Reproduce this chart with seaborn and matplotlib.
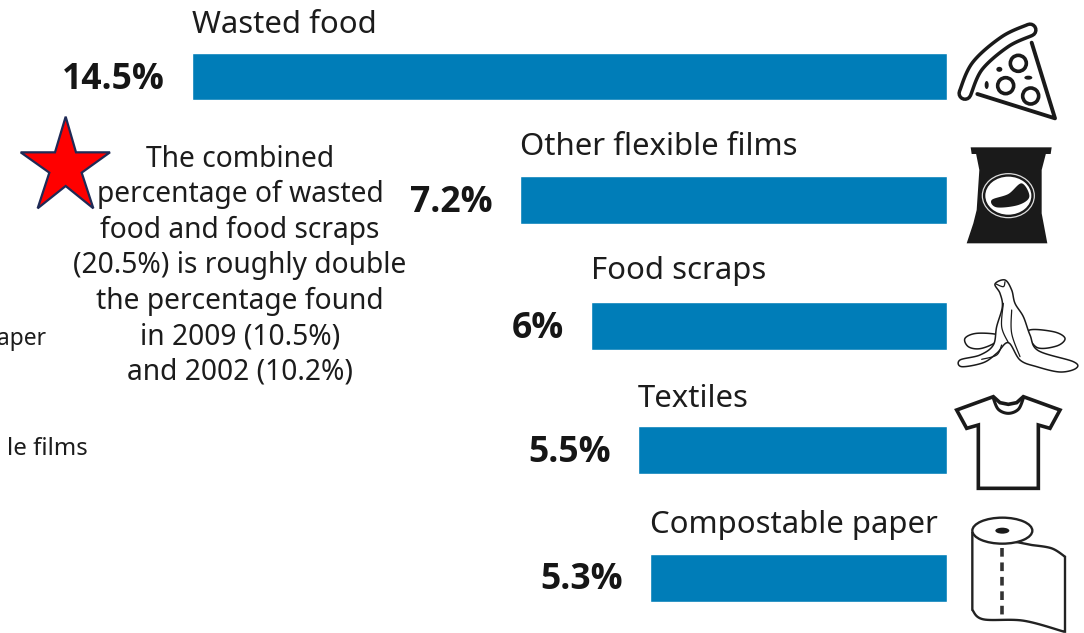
import numpy as np
import pandas as pd
import matplotlib
matplotlib.use("Agg")
import matplotlib.pyplot as plt
from matplotlib.patches import Polygon, Ellipse, Circle
import seaborn as sns

# ---- data -------------------------------------------------------------
categories = ["Wasted food", "Other flexible films", "Food scraps", "Textiles", "Compostable paper"]
value_labels = ["14.5%", "7.2%", "6%", "5.5%", "5.3%"]
percent = [14.5, 7.2, 6.0, 5.5, 5.3]
# The original graphic is not drawn to a linear scale, so the lengths as drawn are
# read off separately, expressed in units of the top bar's scale.
drawn_length = [14.52, 8.21, 6.85, 5.94, 5.71]
note = ("The combined\npercentage of wasted\nfood and food scraps\n(20.5%) is roughly double\n"
        "the percentage found\nin 2009 (10.5%)\nand 2002 (10.2%)")
clipped_neighbours = ["aper", "le films"]

# ---- layout (pixels of the 1084x633 canvas) ---------------------------
W, H = 1084, 633
BASE_X = 947
PX_PER_UNIT = 52.0
bar_centers = [76.5, 200, 326, 450, 578]
name_y = [25, 147, 271, 399, 525]
value_y = [80, 203, 329, 453, 580]
BLUE = "#007DB8"
INK = "#1c1c1c"
FONT = "Noto Sans"

sns.set_theme(style="white")
plt.rcParams["font.family"] = [FONT, "DejaVu Sans"]

fig = plt.figure(figsize=(W / 100, H / 100), dpi=100, facecolor="white")
ax = fig.add_axes([0, 0, 1, 1])
df = pd.DataFrame({"category": categories, "length": drawn_length, "center": bar_centers})
sns.barplot(data=df, x="length", y="center", orient="h", native_scale=True,
            color=BLUE, saturation=1, width=47.5 / 124, errorbar=None, ax=ax)
# bars grow leftward from a common baseline near the icons
ax.set_xlim(BASE_X / PX_PER_UNIT, (BASE_X - W) / PX_PER_UNIT)
ax.set_ylim(H, 0)
ax.axis("off")

for name, val, L, ny, vy in zip(categories, value_labels, drawn_length, name_y, value_y):
    ax.annotate(name, xy=(L, ny), xytext=(0, 0), textcoords="offset pixels", ha="left", va="center",
                fontsize=22.4, color=INK, annotation_clip=False)
    ax.annotate(val, xy=(L, vy), xytext=(-27, 0), textcoords="offset pixels", ha="right", va="center",
                fontsize=25.6, fontweight="bold", family=["Open Sans", "DejaVu Sans"], color="#161616",
                annotation_clip=False)

# overlay in pixel coordinates for the note, star, clipped neighbours and icons
px = fig.add_axes([0, 0, 1, 1], zorder=3)
px.set_xlim(0, W)
px.set_ylim(H, 0)
px.axis("off")
px.patch.set_alpha(0)

px.text(240, 265.5, note, ha="center", va="center", fontsize=20.3, linespacing=1.29, color=INK)
px.text(46.5, 339, clipped_neighbours[0], ha="right", va="center", fontsize=16.4, color=INK)
px.text(88, 449, clipped_neighbours[1], ha="right", va="center", fontsize=17.3, color=INK)

star = [(197, 50), (228, 157), (330, 157), (245, 218), (280, 325), (197, 258),
        (113, 325), (148, 218), (62, 157), (165, 157)]
px.add_patch(Polygon([(x / 3, 100 + y / 3) for x, y in star], closed=True, fc="#FF0000",
                     ec="#1F2A56", lw=1.6, joinstyle="miter"))


def z1(pts):
    return [(940 + x / 3, 10 + y / 3) for x, y in pts]


def z2(pts):
    return [(940 + x / 3, 270 + y / 3) for x, y in pts]


def smooth(pts, closed=False, n=14):
    p = np.asarray(pts, float)
    if closed:
        p = np.vstack([p[-1], p, p[0], p[1]])
    else:
        p = np.vstack([p[0], p, p[-1]])
    out = []
    for i in range(1, len(p) - 2):
        for t in np.linspace(0, 1, n, endpoint=False):
            a, b, c, d = p[i - 1], p[i], p[i + 1], p[i + 2]
            out.append(0.5 * (2 * b + (c - a) * t + (2 * a - 5 * b + 4 * c - d) * t ** 2
                              + (3 * b - a - 3 * c + d) * t ** 3))
    out.append(p[-2])
    return np.array(out)


K = "#1a1a1a"
# pizza
crust = smooth(z1([(75, 250), (112, 168), (195, 95), (270, 60)]))
px.plot(*crust.T, color=K, lw=11, solid_capstyle="round")
px.plot(*crust.T, color="white", lw=6, solid_capstyle="round")
px.plot(*np.array(z1([(112, 252), (345, 325), (275, 98)])).T, color=K, lw=2.8,
        solid_joinstyle="round", solid_capstyle="round")
for x, y in z1([(235, 160), (197, 227), (272, 258)]):
    px.add_patch(Circle((x, y), 8, fc="white", ec=K, lw=2.6))
for x, y, w, h in [(178, 178, 6, 5), (140, 225, 4, 8), (265, 203, 8, 4)]:
    (cx, cy), = z1([(x, y)])
    px.add_patch(Ellipse((cx, cy), w, h, fc=K, ec="none"))

# chip bag
px.add_patch(Polygon(z1([(92, 412), (335, 412), (332, 432), (95, 432)]), fc=K, ec="none"))
px.add_patch(Polygon(z1([(108, 430), (318, 430), (305, 480), (305, 610), (322, 700), (80, 700),
                         (100, 640), (110, 600), (118, 480)]), fc=K, ec="none"))
(cx, cy), = z1([(205, 557)])
px.add_patch(Ellipse((cx, cy), 52, 44, fc=K, ec="#dddddd", lw=0.9))
px.add_patch(Ellipse((cx, cy), 46, 38, fc="white", ec="none"))
px.add_patch(Polygon(smooth(z1([(155, 570), (205, 552), (245, 520), (268, 560), (235, 585), (170, 592)]),
                            closed=True), fc=K, ec="none"))

# banana peel
for shape in ([(75, 205), (110, 190), (175, 195), (165, 218), (120, 236), (85, 230)],
              [(265, 182), (340, 185), (375, 205), (350, 228), (290, 232)]):
    px.add_patch(Polygon(smooth(z2(shape), closed=True), fc="white", ec=K, lw=1.1))
peel = [(165, 42), (195, 30), (215, 60), (225, 100), (250, 140), (270, 195), (295, 242), (400, 275),
        (408, 295), (360, 306), (290, 290), (240, 270), (205, 218), (170, 250), (130, 278), (65, 290),
        (60, 270), (120, 255), (160, 225), (170, 170), (187, 110), (180, 70)]
px.add_patch(Polygon(smooth(z2(peel), closed=True), fc="white", ec=K, lw=1.1))
for ln in ([(190, 100), (185, 170), (205, 218)], [(215, 120), (215, 190), (240, 260)],
           [(185, 225), (170, 255), (125, 268)], [(168, 42), (190, 50), (195, 35)]):
    px.plot(*smooth(z2(ln)).T, color=K, lw=0.9)

# t-shirt
shirt = [(50, 420), (160, 380), (180, 398), (205, 403), (230, 398), (250, 380), (360, 420), (330, 475),
         (295, 465), (295, 655), (115, 655), (115, 465), (80, 475)]
px.add_patch(Polygon(z2(shirt), closed=True, fc="white", ec=K, lw=2.6, joinstyle="miter"))
px.plot(*smooth(z2([(160, 385), (175, 418), (205, 430), (235, 418), (250, 385)])).T, color=K, lw=2.2)

# paper roll
sheet = smooth(z2([(97, 790), (97, 1020)])).tolist() + smooth(z2([(97, 1020), (130, 1048), (250, 1052), (372, 1085)])).tolist() \
    + smooth(z2([(375, 1085), (375, 860)])).tolist() + smooth(z2([(375, 860), (335, 835), (275, 825)])).tolist()
px.add_patch(Polygon(sheet, closed=True, fc="white", ec="#222222", lw=1.7))
(cx, cy), = z2([(187, 782)])
px.add_patch(Ellipse((cx, cy), 60, 26, fc="white", ec="#222222", lw=1.7))
px.add_patch(Ellipse((cx, cy), 14, 6, fc=K, ec="none"))
px.plot(*np.array(z2([(187, 835), (187, 1042)])).T, color="#333333", lw=2.6, ls=(0, (2.4, 1.6)))

fig.savefig("out.png", dpi=100, facecolor="white")
